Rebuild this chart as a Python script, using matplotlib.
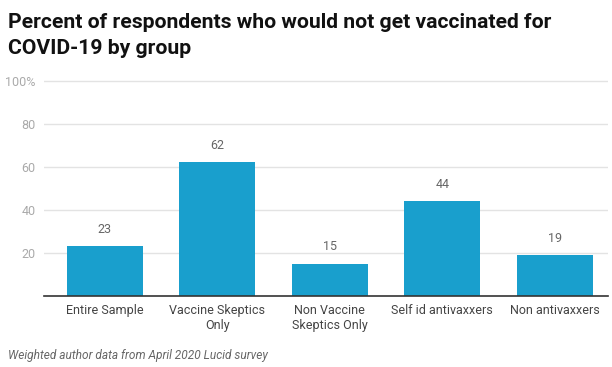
import matplotlib
matplotlib.use("Agg")
import matplotlib.pyplot as plt

categories = ["Entire Sample", "Vaccine Skeptics\nOnly", "Non Vaccine\nSkeptics Only",
              "Self id antivaxxers", "Non antivaxxers"]
values = [23, 62, 15, 44, 19]
yticks = [20, 40, 60, 80, 100]
ytick_labels = ["20", "40", "60", "80", "100%"]

plt.rcParams['font.family'] = ['Roboto', 'DejaVu Sans']

fig = plt.figure(figsize=(6.12, 3.67), dpi=100)
W, H = 612, 367
left, right, bottom = 44, 608, 296
px_per_unit = (296 - 80.5) / 100
ymax = 101
top = bottom - ymax * px_per_unit
ax = fig.add_axes([left / W, 1 - bottom / H, (right - left) / W, (bottom - top) / H])

x = range(len(categories))
ax.bar(x, values, width=0.676, color="#199fcd", zorder=2)
for xi, v in zip(x, values):
    ax.annotate(f"{v}", (xi, v), xytext=(0, 12.2), textcoords="offset points",
                ha="center", va="center", fontsize=9, color="#666666")

spacing = 112.5
c0 = 104.7
ax.set_xlim(-(c0 - left) / spacing, (right - c0) / spacing)
ax.set_ylim(0, ymax)
ax.set_yticks(yticks)
ax.set_yticklabels(ytick_labels)
ax.set_xticks(list(x))
ax.set_xticklabels(categories)
ax.tick_params(axis="y", length=0, pad=6, labelsize=9, labelcolor="#aaaaaa")
ax.tick_params(axis="x", length=0, pad=6, labelsize=9, labelcolor="#444444")
ax.grid(axis="y", color="#e3e3e3", linewidth=1, zorder=0)
for s in ["top", "right", "left"]:
    ax.spines[s].set_visible(False)
ax.spines["bottom"].set_color("#333333")
ax.spines["bottom"].set_linewidth(1.2)
ax.spines["bottom"].set_zorder(3)

fig.text(8 / W, 1 - 13 / H, "Percent of respondents who would not get vaccinated for\nCOVID-19 by group",
         ha="left", va="top", fontsize=15.2, fontweight="bold", color="#111111", linespacing=1.45)
fig.text(8 / W, 1 - 355 / H, "Weighted author data from April 2020 Lucid survey",
         ha="left", va="center", fontsize=8.6, style="italic", color="#666666")

fig.savefig("out.png", dpi=100)
